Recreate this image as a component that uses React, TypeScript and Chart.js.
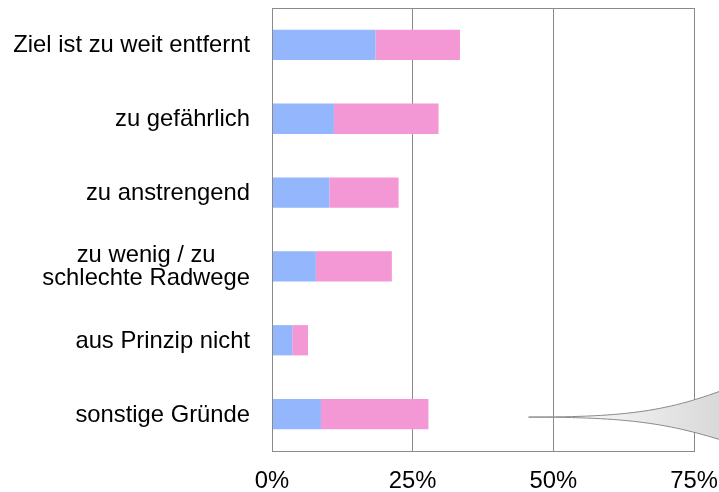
import React, { useEffect, useRef } from "react";
import { Chart, registerables } from "chart.js";

Chart.register(...registerables);

const categories: (string | string[])[] = [
  "Ziel ist zu weit entfernt",
  "zu gefährlich",
  "zu anstrengend",
  ["zu wenig / zu", "schlechte Radwege"],
  "aus Prinzip nicht",
  "sonstige Gründe",
];
const seriesBlue = [18.4, 11.0, 10.2, 7.8, 3.6, 8.7];
const seriesPink = [15.0, 18.6, 12.3, 13.5, 2.8, 19.1];
const xTicks = [0, 25, 50, 75];

const FONT = "Liberation Sans, Arial, sans-serif";
const FONT_SIZE = 23.8;

const framePlugin = {
  id: "frameAndLabels",
  afterDraw(chart: any) {
    const { ctx, chartArea, scales } = chart;
    const y = scales.y;
    const x = scales.x;
    ctx.save();
    // frame
    ctx.strokeStyle = "#8a8a8a";
    ctx.lineWidth = 1;
    ctx.strokeRect(chartArea.left + 0.5, chartArea.top + 0.5, chartArea.right - chartArea.left, chartArea.bottom - chartArea.top);
    // y labels, centered multi-line
    ctx.fillStyle = "#000";
    ctx.font = `${FONT_SIZE}px ${FONT}`;
    ctx.textAlign = "center";
    ctx.textBaseline = "middle";
    const rightEdge = chartArea.left - 22;
    const lh = 23;
    categories.forEach((lab, i) => {
      const lines = Array.isArray(lab) ? lab : [lab];
      const maxW = Math.max(...lines.map((l) => ctx.measureText(l).width));
      const cx = rightEdge - maxW / 2;
      const cy = y.getPixelForTick(i);
      lines.forEach((l, j) => {
        ctx.fillText(l, cx, cy + (j - (lines.length - 1) / 2) * lh + 1);
      });
    });
    // callout wedge decoration
    const last = categories.length - 1;
    const ay = y.getPixelForTick(last) + 3;
    const ax = x.getPixelForValue(45.6);
    const w = chart.width;
    const grad = ctx.createLinearGradient(ax + 20, 0, w, 0);
    grad.addColorStop(0, "#ffffff");
    grad.addColorStop(1, "#d9d9d9");
    ctx.beginPath();
    ctx.moveTo(ax, ay);
    ctx.bezierCurveTo(ax + 100, ay, ax + 140, ay - 6, w + 12, ay - 30);
    ctx.lineTo(w + 12, ay + 26);
    ctx.bezierCurveTo(ax + 140, ay + 6, ax + 100, ay, ax, ay);
    ctx.closePath();
    ctx.fillStyle = grad;
    ctx.fill();
    ctx.strokeStyle = "#8a8a8a";
    ctx.lineWidth = 1;
    ctx.stroke();
    ctx.restore();
  },
};

export default function App() {
  const ref = useRef<HTMLCanvasElement | null>(null);
  useEffect(() => {
    if (!ref.current) return;
    const chart = new Chart(ref.current, {
      type: "bar",
      data: {
        labels: categories as any,
        datasets: [
          {
            data: seriesBlue,
            backgroundColor: "#93b6fd",
            barPercentage: 0.41,
            categoryPercentage: 1,
          },
          {
            data: seriesPink,
            backgroundColor: "#f497d5",
            barPercentage: 0.41,
            categoryPercentage: 1,
          },
        ],
      },
      options: {
        indexAxis: "y",
        responsive: false,
        animation: false,
        layout: { padding: { top: 8, right: 25, left: 0, bottom: 0 } },
        plugins: { legend: { display: false }, tooltip: { enabled: false } },
        scales: {
          x: {
            stacked: true,
            min: 0,
            max: 75,
            afterBuildTicks: (s: any) => {
              s.ticks = xTicks.map((v) => ({ value: v }));
            },
            afterFit: (s: any) => {
              s.height = 41;
              s.paddingLeft = 0;
              s.paddingRight = 0;
            },
            grid: { color: "#8a8a8a", lineWidth: 1, drawTicks: false },
            border: { display: false },
            ticks: {
              color: "#000",
              font: { family: FONT, size: FONT_SIZE },
              padding: 16,
              maxRotation: 0,
              callback: (v: any) => v + "%",
            },
          },
          y: {
            stacked: true,
            afterFit: (s: any) => {
              s.width = 272;
            },
            grid: { display: false },
            border: { display: false },
            ticks: { display: false },
          },
        },
      },
      plugins: [framePlugin],
    });
    return () => chart.destroy();
  }, []);
  return (
    <div style={{ position: "absolute", left: 0, top: 0, width: 719, height: 492, background: "#fff" }}>
      <canvas ref={ref} width={719} height={492} style={{ display: "block" }} />
    </div>
  );
}
